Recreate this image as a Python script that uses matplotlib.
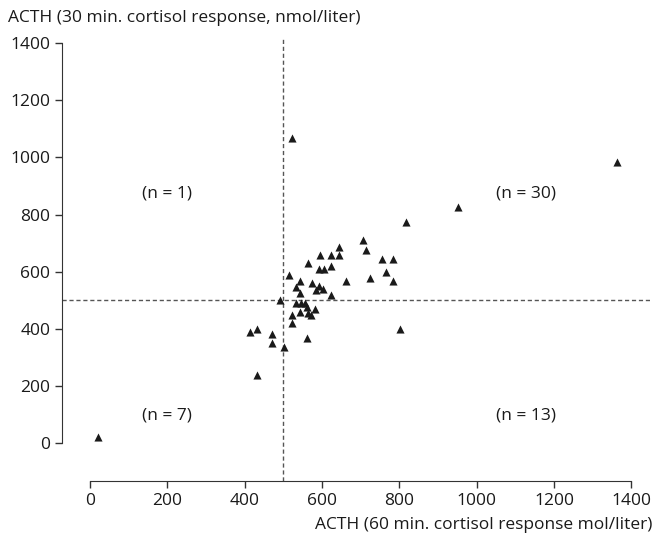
import matplotlib.pyplot as plt

plt.rcParams['font.family'] = ['Open Sans', 'DejaVu Sans']

# ACTH test: 60 min response (x) vs 30 min response (y)
acth_60 = [20, 432, 413, 432, 472, 472, 501, 492, 514, 523,
           522, 534, 534, 543, 543, 543, 547, 556, 562, 564,
           571, 564, 574, 583, 584, 592, 592, 594, 603, 605,
           623, 624, 624, 644, 644, 663, 705, 715, 723, 754,
           765, 784, 784, 801, 562, 817, 953, 1364, 522]
acth_30 = [20, 238, 390, 398, 382, 351, 337, 500, 590, 450,
           421, 547, 492, 568, 527, 458, 492, 489, 477, 457,
           448, 629, 559, 468, 535, 549, 608, 658, 539, 608,
           518, 620, 658, 660, 687, 568, 711, 676, 577, 646,
           598, 646, 568, 398, 369, 774, 826, 984, 1068]

cutoff = 500
quad_labels = ["(n = 1)", "(n = 30)", "(n = 7)", "(n = 13)"]
quad_x = [200, 1127, 200, 1127]
quad_y = [875, 875, 98, 98]

fig = plt.figure(figsize=(6.54, 5.36), dpi=100)
ax = fig.add_axes([0.0948, 0.1026, 0.9002, 0.8274])

ax.scatter(acth_60, acth_30, marker='^', s=34, color='#1a1a1a', zorder=3, linewidths=0)

ax.axvline(cutoff, color='#555555', lw=1, ls=(0, (3, 2)), zorder=1)
ax.axhline(cutoff, color='#555555', lw=1, ls=(0, (3, 2)), zorder=1)

for lbl, qx, qy in zip(quad_labels, quad_x, quad_y):
    ax.text(qx, qy, lbl, ha='center', va='center', fontsize=12.5, color='#1a1a1a')

ax.set_xlim(-72, 1450)
ax.set_ylim(-133, 1420)
ax.set_xticks(range(0, 1401, 200))
ax.set_yticks(range(0, 1401, 200))
ax.spines['top'].set_visible(False)
ax.spines['right'].set_visible(False)
ax.spines['left'].set_bounds(0, 1400)
ax.spines['bottom'].set_bounds(0, 1400)
for s in ['left', 'bottom']:
    ax.spines[s].set_color('#333333')
ax.tick_params(direction='out', length=5, width=1, colors='#333333',
               labelsize=12.5, labelcolor='#1a1a1a')

fig.text(0.012, 0.966, "ACTH (30 min. cortisol response, nmol/liter)",
         ha='left', va='center', fontsize=12.5, color='#1a1a1a')
fig.text(0.997, 0.021, "ACTH (60 min. cortisol response mol/liter)",
         ha='right', va='center', fontsize=12.5, color='#1a1a1a')

fig.savefig("out.png", dpi=100)
